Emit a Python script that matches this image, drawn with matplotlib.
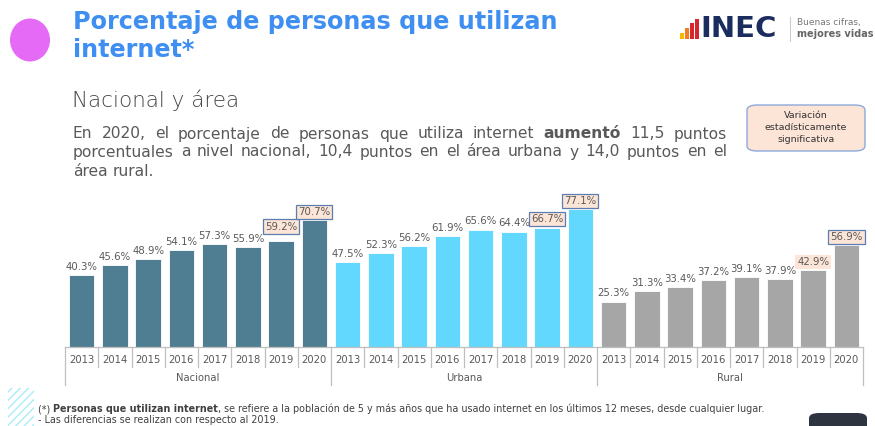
import matplotlib
matplotlib.use("Agg")
import matplotlib.pyplot as plt
from matplotlib.patches import Rectangle, FancyBboxPatch, Ellipse

# ---------------- data ----------------
years = ["2013", "2014", "2015", "2016", "2017", "2018", "2019", "2020"]
groups = ["Nacional", "Urbana", "Rural"]
nacional = [40.3, 45.6, 48.9, 54.1, 57.3, 55.9, 59.2, 70.7]
urbana = [47.5, 52.3, 56.2, 61.9, 65.6, 64.4, 66.7, 77.1]
rural = [25.3, 31.3, 33.4, 37.2, 39.1, 37.9, 42.9, 56.9]
group_colors = ["#4F7E92", "#62D8FF", "#A6A6A6"]
# label highlight: 0 none, 1 peach fill, 2 peach fill + border
highlight_nacional = [0, 0, 0, 0, 0, 0, 2, 2]
highlight_urbana = [0, 0, 0, 0, 0, 0, 2, 2]
highlight_rural = [0, 0, 0, 0, 0, 0, 1, 2]

W, H = 875, 426
fig = plt.figure(figsize=(W / 100, H / 100), dpi=100)
fig.patch.set_facecolor("white")

def fx(x):
    return x / W

def fy(y):
    return 1 - y / H

# ---------------- axes ----------------
ax_l, ax_r, ax_b, ax_t = 65, 863, 347, 190
ax = fig.add_axes([fx(ax_l), fy(ax_b), (ax_r - ax_l) / W, (ax_b - ax_t) / H])
ax.set_xlim(-0.5, 23.5)
ax.set_ylim(0, 87.7)
ax.axis("off")

series = [nacional, urbana, rural]
highs = [highlight_nacional, highlight_urbana, highlight_rural]
lab_color = "#595959"
for g, (vals, hl) in enumerate(zip(series, highs)):
    xs = [g * 8 + i for i in range(len(vals))]
    ax.bar(xs, vals, width=0.76, color=group_colors[g], edgecolor="#FFFFFF",
           linewidth=0.6, zorder=2)
    for x, v, h in zip(xs, vals, hl):
        extra = 3.5 if (g == 0 and x == 6) else 0
        kw = {}
        if h == 1:
            kw["bbox"] = dict(boxstyle="square,pad=0.2", fc="#FCE4D6", ec="none")
        elif h == 2:
            kw["bbox"] = dict(boxstyle="square,pad=0.2", fc="#FCE4D6", ec="#5B7DB1", lw=0.9)
        ax.text(x, v + 4.6 + extra, f"{v:.1f}%", ha="center", va="center",
                fontsize=7.3, color=lab_color, zorder=3, **kw)

# category axis
trans = ax.get_xaxis_transform()
axis_col = "#BFBFBF"
ax.plot([-0.5, 23.5], [0, 0], color=axis_col, lw=0.9, transform=trans, clip_on=False)
for k in range(25):
    xpos = k - 0.5
    depth = -0.245 if k % 8 == 0 else -0.125
    ax.plot([xpos, xpos], [0, depth], color=axis_col, lw=0.9, transform=trans, clip_on=False)
for g in range(3):
    for i, yr in enumerate(years):
        ax.text(g * 8 + i, -0.085, yr, ha="center", va="center", fontsize=7.2,
                color=lab_color, transform=trans)
    ax.text(g * 8 + 3.5, -0.2, groups[g], ha="center", va="center", fontsize=7.2,
            color=lab_color, transform=trans)

# ---------------- header ----------------
fig.patches.append(Ellipse((fx(30), fy(40)), 40 / W, 43 / H, transform=fig.transFigure,
                           fc="#E56BF7", ec="none"))
fig.text(fx(73), fy(22), "Porcentaje de personas que utilizan", fontsize=17.2,
         fontweight="bold", color="#3F8FF2", va="center", ha="left")
fig.text(fx(73), fy(50), "internet*", fontsize=17.2, fontweight="bold",
         color="#3F8FF2", va="center", ha="left")
fig.text(fx(72), fy(100), "Nacional y área", fontsize=15.5, color="#454545",
         va="center", ha="left", fontweight="light")

# logo
logo_bars = [(680, 33, "#F9B800"), (685, 28, "#F47B20"), (690, 23, "#D7262E"), (695, 19, "#D7262E")]
for x0, top, c in logo_bars:
    fig.patches.append(Rectangle((fx(x0), fy(39)), 3.6 / W, (39 - top) / H,
                                 transform=fig.transFigure, fc=c, ec="none"))
fig.text(fx(700), fy(29), "INEC", fontsize=21, fontweight="bold", color="#1B2C5E",
         va="center", ha="left", family="DejaVu Sans")
fig.add_artist(plt.Line2D([fx(790), fx(790)], [fy(17), fy(41)], color="#CCCCCC",
                          lw=0.8, transform=fig.transFigure))
fig.text(fx(797), fy(23), "Buenas cifras,", fontsize=6.5, color="#777777", va="center")
fig.text(fx(797), fy(34), "mejores vidas", fontsize=7, fontweight="bold",
         color="#666666", va="center")

# legend box
fig.patches.append(FancyBboxPatch((fx(747), fy(151)), 118 / W, 46 / H,
                                  boxstyle="round,pad=0,rounding_size=0.012",
                                  transform=fig.transFigure, fc="#FCE4D6",
                                  ec="#8EA9DB", lw=1))
for i, t in enumerate(["Variación", "estadísticamente", "significativa"]):
    fig.text(fx(806), fy(115 + 12 * i), t, fontsize=6.8, color="#333333",
             ha="center", va="center")

# justified paragraph
fig.canvas.draw()
rend = fig.canvas.get_renderer()

def place_line(segments, x_left, x_right, y, size, color, justify=True):
    words = []
    for txt, bold in segments:
        for w in txt.split():
            words.append((w, bold))
    arts = []
    widths = []
    for w, bold in words:
        t = fig.text(fx(x_left), fy(y), w, fontsize=size, color=color,
                     fontweight="bold" if bold else "normal", va="center", ha="left")
        arts.append(t)
        widths.append(t.get_window_extent(renderer=rend).width)
    sp = fig.text(0, 0, "a b", fontsize=size)
    sp_w = sp.get_window_extent(renderer=rend).width
    sp2 = fig.text(0, 0, "ab", fontsize=size)
    sp_w -= sp2.get_window_extent(renderer=rend).width
    sp.remove(); sp2.remove()
    if justify and len(words) > 1:
        gap = (x_right - x_left - sum(widths)) / (len(words) - 1)
    else:
        gap = sp_w
    x = x_left
    for t, wdt in zip(arts, widths):
        t.set_x(fx(x))
        x += wdt + gap

par_size = 11.2
par_col = "#595959"
place_line([("En 2020, el porcentaje de personas que utiliza internet", False),
            ("aumentó", True), ("11,5 puntos", False)], 73, 727, 134, par_size, par_col)
place_line([("porcentuales a nivel nacional, 10,4 puntos en el área urbana y 14,0 puntos en el", False)],
           73, 727, 152, par_size, par_col)
place_line([("área rural.", False)], 73, 727, 171, par_size, par_col, justify=False)

# footnote
fig.patches.append(Rectangle((fx(8), fy(426)), 26 / W, 38 / H, transform=fig.transFigure,
                             fc="none", ec="#A8ECF8", hatch="////", lw=0))

def place_segments(segments, x_left, y, size, color):
    x = x_left
    for txt, bold in segments:
        t = fig.text(fx(x), fy(y), txt, fontsize=size, color=color,
                     fontweight="bold" if bold else "normal", va="center", ha="left")
        x += t.get_window_extent(renderer=rend).width

place_segments([("(*) ", False), ("Personas que utilizan internet", True),
                (", se refiere a la población de 5 y más años que ha usado internet en los últimos 12 meses, desde cualquier lugar.", False)],
               38, 409, 6.9, "#404040")
place_segments([("- Las diferencias se realizan con respecto al 2019.", False)], 38, 420, 6.9, "#404040")

# dark tab bottom right
fig.patches.append(FancyBboxPatch((fx(809), fy(432)), 58 / W, 19 / H,
                                  boxstyle="round,pad=0,rounding_size=0.012",
                                  transform=fig.transFigure, fc="#2E3440", ec="none"))

fig.savefig("out.png", dpi=100, facecolor="white")
